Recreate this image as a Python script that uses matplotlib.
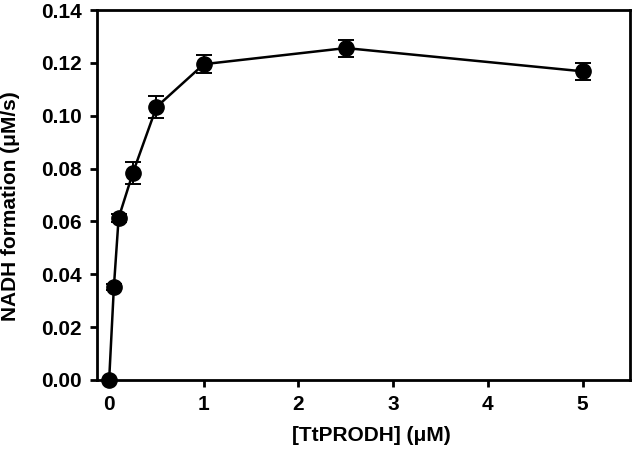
import matplotlib
matplotlib.use("Agg")
import matplotlib.pyplot as plt

conc = [0, 0.05, 0.1, 0.25, 0.5, 1, 2.5, 5]
rate = [0.0, 0.0352, 0.0613, 0.0783, 0.1033, 0.1195, 0.1256, 0.1168]
err = [0.0, 0.001, 0.0015, 0.004, 0.004, 0.0034, 0.0032, 0.0032]
xticks = [0, 1, 2, 3, 4, 5]
yticks = [0.00, 0.02, 0.04, 0.06, 0.08, 0.10, 0.12, 0.14]

plt.rcParams['font.family'] = ['Liberation Sans', 'DejaVu Sans']
plt.rcParams['font.weight'] = 'bold'

fig = plt.figure(figsize=(6.33, 4.55), dpi=100)
ax = fig.add_axes([0.153, 0.165, 0.842, 0.813])
ax.errorbar(conc, rate, yerr=err, color='black', marker='o', markersize=11,
            linewidth=1.8, elinewidth=1.4, capsize=6, capthick=1.4, clip_on=False, zorder=3)
ax.set_xlim(-0.13, 5.5)
ax.set_ylim(0, 0.14)
ax.set_xticks(xticks)
ax.set_xticklabels([str(t) for t in xticks])
ax.set_yticks(yticks)
ax.set_yticklabels([f"{t:.2f}" for t in yticks])
for s in ax.spines.values():
    s.set_linewidth(2)
ax.tick_params(direction='out', length=5, width=2, labelsize=15, pad=6)
ax.set_xlabel('[TtPRODH] (μM)', fontsize=15, fontweight='bold')
ax.set_ylabel('NADH formation (μM/s)', fontsize=15, fontweight='bold')
ax.xaxis.set_label_coords(0.516, -0.125)
ax.yaxis.set_label_coords(-0.144, 0.47)
fig.savefig('out.png', dpi=100)
